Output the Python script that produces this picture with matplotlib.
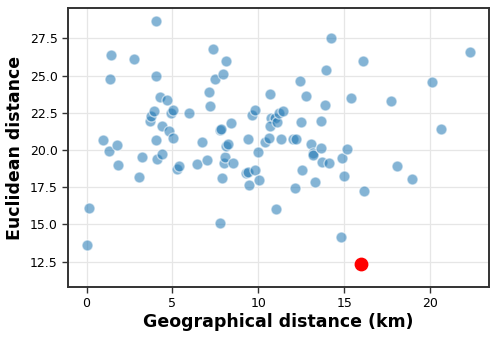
import matplotlib
matplotlib.use("Agg")
import matplotlib.pyplot as plt

# blue points: geographical distance (km) vs euclidean distance
geo_km = [0.03, 0.16, 0.93, 1.31, 1.37, 1.41, 1.78, 1.85, 2.75, 3.04,
          3.21, 4.03, 4.07, 3.70, 3.74, 3.95, 4.26, 4.71, 4.42, 4.79,
          4.07, 5.04, 4.90, 5.06, 5.97, 4.12, 4.40, 5.25, 5.39, 6.45,
          6.73, 7.02, 7.13, 7.21, 7.37, 7.47, 7.97, 8.14, 7.79, 7.82,
          8.40, 7.87, 8.03, 8.05, 8.09, 8.24, 8.55, 7.76, 9.27, 9.42,
          9.81, 9.48, 10.06, 9.97, 9.42, 9.62, 9.83, 10.41, 10.65, 10.69,
          10.75, 10.95, 10.70, 11.10, 11.21, 11.44, 11.33, 11.03, 12.00, 12.20,
          12.47, 12.45, 12.77, 12.53, 12.13, 13.06, 13.17, 13.21, 13.29, 13.62,
          13.66, 13.73, 13.91, 13.95, 14.12, 14.24, 14.82, 14.88, 15.00, 15.15,
          15.39, 16.12, 16.16, 17.73, 18.08, 18.94, 20.12, 20.65, 22.32]
eucl = [13.61, 16.10, 20.64, 19.92, 24.75, 26.37, 20.34, 18.99, 26.10, 18.16,
        19.53, 28.69, 24.98, 21.97, 22.27, 22.62, 23.54, 23.36, 21.61, 21.25,
        20.65, 20.79, 22.49, 22.71, 22.47, 19.39, 19.71, 18.72, 18.94, 19.06,
        20.56, 19.31, 23.92, 22.98, 26.81, 24.77, 25.11, 26.00, 21.37, 21.40,
        21.82, 18.10, 19.15, 19.55, 20.25, 20.40, 19.10, 15.11, 18.45, 18.52,
        18.63, 17.67, 17.98, 19.84, 20.72, 22.33, 22.71, 20.54, 20.83, 23.75,
        22.13, 22.13, 21.60, 21.90, 22.47, 22.64, 20.72, 16.02, 20.75, 20.75,
        21.86, 24.64, 23.65, 18.68, 17.42, 20.38, 19.78, 19.66, 17.83, 21.93,
        20.11, 19.17, 23.00, 25.40, 19.10, 27.53, 14.13, 19.44, 18.27, 20.08,
        23.52, 26.00, 17.26, 23.30, 18.94, 18.03, 24.57, 21.39, 26.61]

# highlighted pair
hl_geo = [15.95]
hl_eucl = [12.33]

fig = plt.figure(figsize=(4.98, 3.40), dpi=100)
ax = fig.add_axes([0.1365, 0.156, 0.8455, 0.820])

ax.scatter(geo_km, eucl, s=62, color="#1f77b4", alpha=0.55,
           edgecolors="white", linewidths=1.0, zorder=3)
ax.scatter(hl_geo, hl_eucl, s=80, color="red", edgecolors="red", zorder=4)

ax.set_xlim(-1.08, 23.43)
ax.set_ylim(10.8, 29.53)
ax.set_xticks([0, 5, 10, 15, 20])
ax.set_yticks([12.5, 15.0, 17.5, 20.0, 22.5, 25.0, 27.5])

ax.grid(True, color="#e6e6e6", linewidth=0.9, zorder=0)
ax.set_axisbelow(True)
for sp in ax.spines.values():
    sp.set_color("#333333")
    sp.set_linewidth(1.4)
ax.tick_params(labelsize=9, color="#333333", width=1.0, length=4)

ax.set_xlabel("Geographical distance (km)", fontsize=12.5, fontweight="bold", labelpad=2)
ax.set_ylabel("Euclidean distance", fontsize=12.5, fontweight="bold", labelpad=4)

fig.savefig("out.png", dpi=100)
